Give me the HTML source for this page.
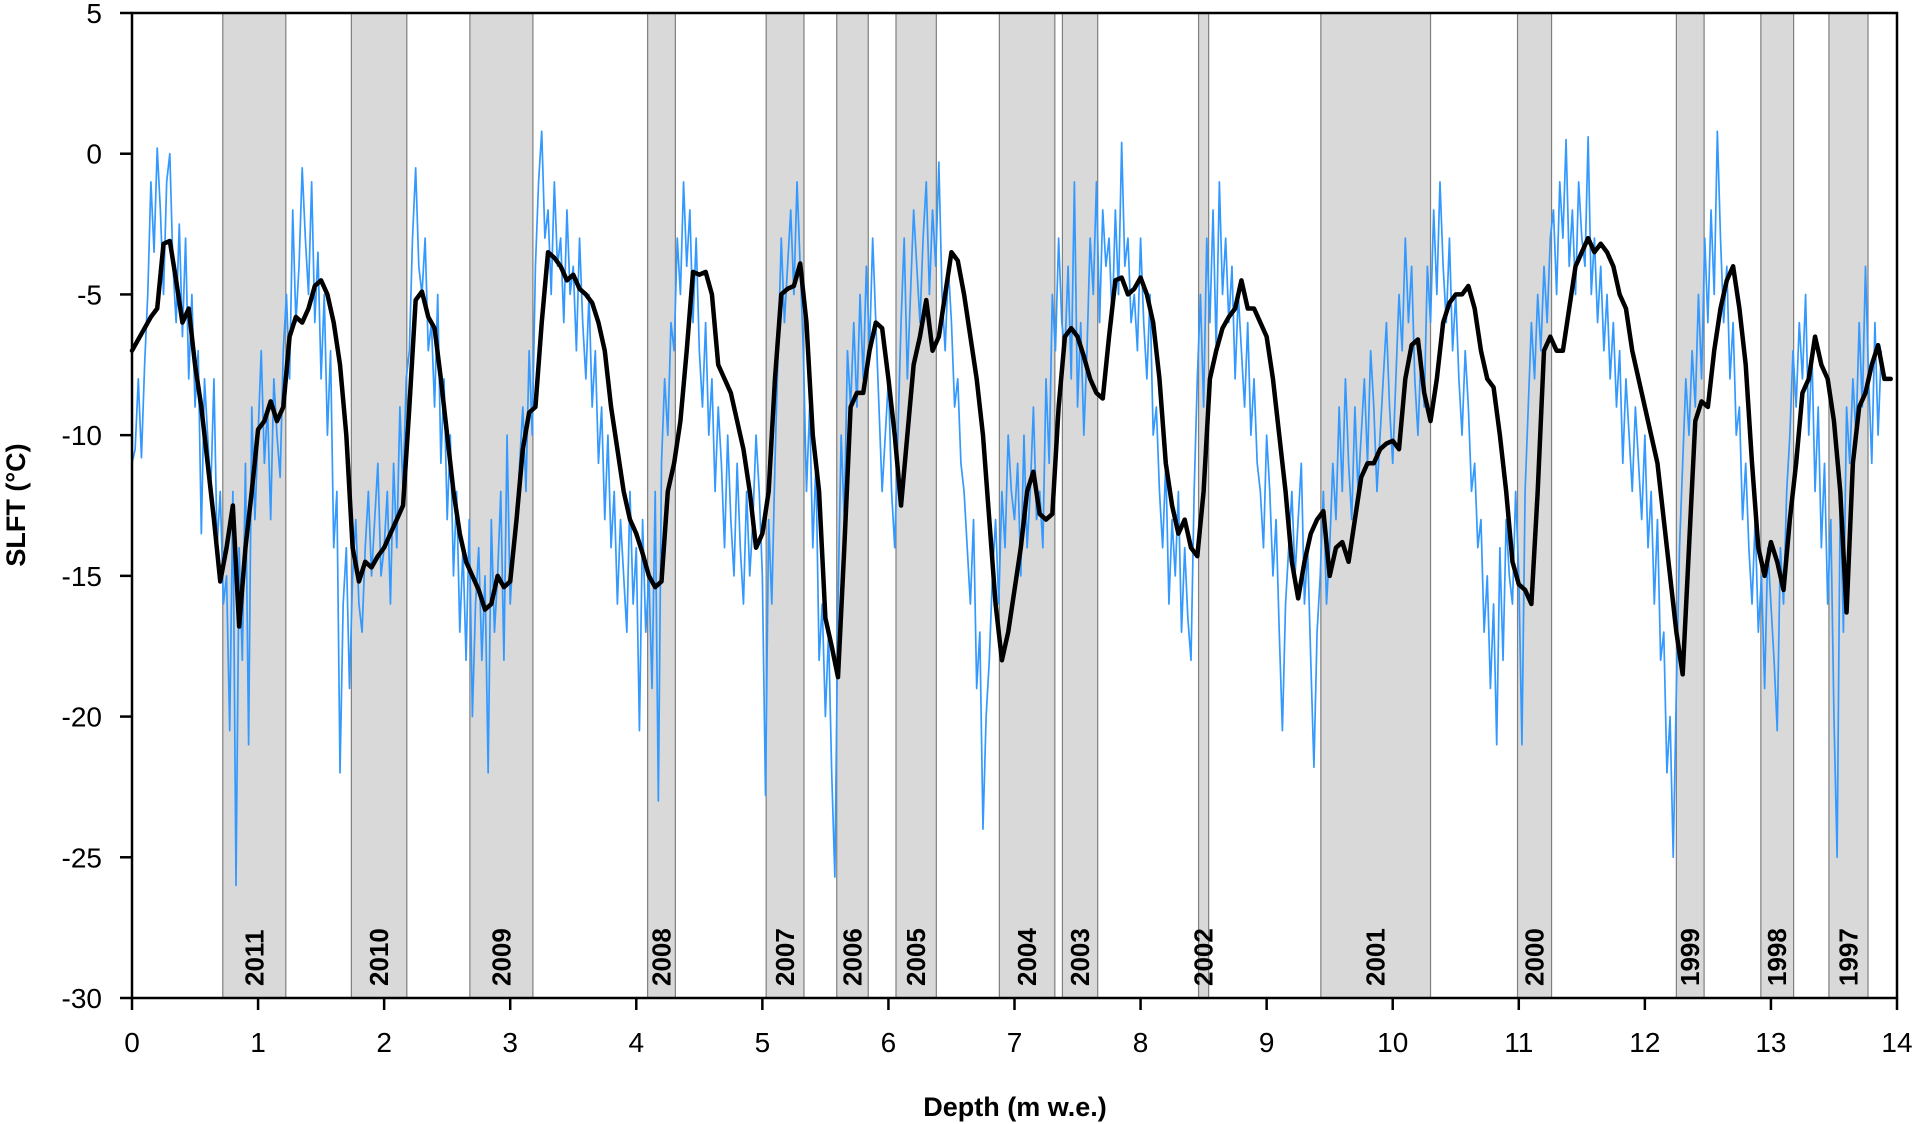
<!DOCTYPE html>
<html><head><meta charset="utf-8"><style>
html,body{margin:0;padding:0;background:#fff;}
svg{display:block;font-family:"Liberation Sans",Arial,sans-serif;}
</style></head><body>
<svg id="chart" width="1918" height="1124" viewBox="0 0 1918 1124" xmlns="http://www.w3.org/2000/svg">
<g id="bands"></g>
<g id="series"></g>
<g id="axes"></g>
<text transform="translate(25,505) rotate(-90)" text-anchor="middle" font-weight="bold" font-size="27">SLFT (°C)</text>
<text x="1015" y="1116" text-anchor="middle" font-weight="bold" font-size="27">Depth (m w.e.)</text>
</svg>
<script>
const yearLabels=["2011","2010","2009","2008","2007","2006","2005","2004","2003","2002","2001","2000","1999","1998","1997"];
const bandStart=[0.72,1.74,2.68,4.09,5.03,5.59,6.06,6.88,7.38,8.46,9.43,10.99,12.25,12.92,13.46];
const bandEnd=[1.22,2.18,3.18,4.31,5.33,5.84,6.38,7.32,7.66,8.54,10.30,11.26,12.47,13.18,13.77];
const xTicks=[0,1,2,3,4,5,6,7,8,9,10,11,12,13,14];
const yTicks=[5,0,-5,-10,-15,-20,-25,-30];
const smoothStep=0.05;
const smoothVals=[-7,-6.6,-6.2,-5.8,-5.5,-3.2,-3.1,-4.5,-6,-5.5,-7.5,-9,-11,-13,-15.2,-14,-12.5,-16.8,-14,-12,
-9.8,-9.5,-8.8,-9.5,-9,-6.5,-5.8,-6,-5.5,-4.7,-4.5,-5,-6,-7.5,-10,-14,-15.2,-14.5,-14.7,-14.3,
-14,-13.5,-13,-12.5,-9,-5.2,-4.9,-5.8,-6.2,-8,-10,-12,-13.5,-14.5,-15,-15.5,-16.2,-16,-15,-15.4,
-15.2,-13,-10.5,-9.2,-9,-6,-3.5,-3.7,-4,-4.5,-4.3,-4.8,-5,-5.3,-6,-7,-9,-10.5,-12,-13,
-13.5,-14.2,-15,-15.4,-15.2,-12,-11,-9.5,-7,-4.2,-4.3,-4.2,-5,-7.5,-8,-8.5,-9.5,-10.5,-12,-14,
-13.5,-12,-8,-5,-4.8,-4.7,-3.9,-6,-10,-12,-16.5,-17.5,-18.6,-14,-9,-8.5,-8.5,-7,-6,
-6.2,-8,-10,-12.5,-10,-7.5,-6.5,-5.2,-7,-6.5,-5,-3.5,-3.8,-5,-6.5,-8,-10,-13,-16,-18,
-17,-15.5,-14,-12,-11.3,-12.8,-13,-12.8,-9,-6.5,-6.2,-6.5,-7.2,-8,-8.5,-8.7,-6.5,-4.5,-4.4,-5,
-4.8,-4.4,-5,-6,-8,-11,-12.5,-13.5,-13,-14,-14.3,-12,-8,-7,-6.2,-5.8,-5.5,-4.5,-5.5,-5.5,
-6,-6.5,-8,-10,-12,-14.5,-15.8,-14.5,-13.5,-13,-12.7,-15,-14,-13.8,-14.5,-13,-11.5,-11,-11,-10.5,
-10.3,-10.2,-10.5,-8,-6.8,-6.6,-8.5,-9.5,-8,-6,-5.3,-5,-5,-4.7,-5.5,-7,-8,-8.3,-10,-12,
-14.5,-15.3,-15.5,-16,-12,-7,-6.5,-7,-7,-5.5,-4,-3.5,-3,-3.5,-3.2,-3.5,-4,-5,-5.5,-7,
-8,-9,-10,-11,-13,-15,-17,-18.5,-14,-9.5,-8.8,-9,-7,-5.5,-4.5,-4,-5.5,-7.5,-11,-14,
-15,-13.8,-14.5,-15.5,-13,-11,-8.5,-8,-6.5,-7.5,-8,-9.5,-12,-16.3,-11,-9,-8.5,-7.5,-6.8,-8,-8];
const rawStep=0.025;
const rawVals=[
-11,-10.5,-8,-10.8,-7.5,-5,-1,-3.5,0.2,-2,-5,-1,0,-4,-6,-2.5,-6.5,-3,-8,-5,-9,-7,-13.5,-8,-10,-12,-8,-14,-12,-16,-15,-20.5,-12,-26,-14,-18,-11,-21,-9,-13,
-10,-7,-11,-9,-13,-8,-10,-11.5,-7,-5,-8,-2,-6,-4,-0.5,-3,-5,-1,-6,-3.5,-8,-5,-10,-7,-14,-12,-22,-16,-14,-19,-15,-13,-16,-17,-14,-12,-15,-13,-11,-15,
-14,-12,-16,-11,-14,-9,-12,-8,-7,-3,-0.5,-4,-5,-3,-7,-6,-9,-5,-11,-8,-13,-10,-15,-12,-17,-14,-18,-13,-20,-16,-14,-18,-15,-22,-13,-17,-15,-12,-18,-10,
-16,-14,-13,-11,-9,-12,-7,-10,-4,-1,0.8,-3,-2,-5,-1,-4,-3,-6,-2,-5,-4,-7,-3,-6,-8,-5,-9,-7,-11,-9,-13,-10,-14,-12,-16,-13,-15,-17,-12,-16,
-14,-20.5,-13,-17,-15,-19,-12,-23,-11,-8,-10,-6,-7,-3,-5,-1,-4,-2,-6,-3,-7,-9,-6,-10,-8,-12,-9,-11,-14,-10,-13,-15,-11,-14,-16,-12,-15,-13,-10,-12,
-15,-22.8,-13,-16,-11,-7,-3,-6,-4,-2,-5,-1,-4,-7,-12,-9,-14,-11,-18,-16,-20,-17,-22,-25.7,-16,-10,-13,-7,-9,-6,-9,-5,-8,-4,-7,-3,-6,-9,-12,-10,
-8,-12,-14,-10,-6,-3,-8,-5,-2,-4,-6,-3,-1,-5,-2,-4,-0.3,-5,-7,-4,-6,-9,-8,-11,-12,-14,-16,-13,-19,-17,-24,-20,-18,-15,-13,-16,-12,-14,-10,-12,
-13,-11,-15,-10,-14,-12,-9,-13,-12,-14,-8,-11,-5,-7,-3,-6,-7,-4,-8,-1,-9,-6,-10,-7,-3,-5,-1,-6,-2,-4,-3,-6,-2,-5,0.4,-4,-3,-6,-5,-7,
-3,-6,-8,-5,-10,-9,-12,-14,-11,-16,-13,-15,-12,-17,-14,-16.5,-18,-12,-8,-5,-9,-3,-6,-2,-7,-1,-5,-3,-6,-4,-8,-5,-7,-9,-6,-10,-8,-11,-12,-14,
-10,-12,-15,-13,-17,-20.5,-16,-14,-12,-15,-13,-11,-16,-14,-18,-21.8,-17,-15,-12,-16,-14,-11,-13,-9,-12,-8,-11,-13,-9,-12,-10,-8,-11,-7,-9,-12,-10,-8,-6,-9,
-11,-8,-5,-7,-3,-6,-4,-8,-10,-7,-9,-4,-6,-2,-5,-1,-4,-6,-3,-7,-5,-8,-10,-7,-9,-12,-11,-14,-13,-17,-15,-19,-16,-21,-14,-18,-13,-15,-16,-12,
-15,-21,-12,-9,-6,-8,-5,-7,-4,-6,-3,-2,-5,-1,-3,0.5,-4,-2,-5,-1,-3,-4,0.6,-5,-3,-6,-4,-7,-5,-8,-6,-9,-7,-11,-8,-10,-12,-9,-11,-13,
-10,-14,-12,-16,-13,-18,-17,-22,-20,-25,-19,-14,-11,-8,-10,-7,-9,-5,-8,-3,-6,-2,-5,0.8,-3,-6,-4,-8,-6,-10,-9,-13,-11,-14,-16,-13,-17,-15,-19,-14,
-16,-18,-20.5,-14,-16,-12,-10,-7,-9,-6,-8,-5,-10,-7,-12,-9,-14,-11,-16,-13,-20,-25,-12,-17,-9,-11,-8,-10,-6,-9,-4,-8,-11,-6,-10,-7];

const L=132,R=1897,T=13,B=998,XMIN=0,XMAX=14,YMIN=-30,YMAX=5;
const xs=v=>L+(v-XMIN)/(XMAX-XMIN)*(R-L);
const ys=v=>B-(v-YMIN)/(YMAX-YMIN)*(B-T);
const NS="http://www.w3.org/2000/svg";
function mk(tag,attrs,parent){const e=document.createElementNS(NS,tag);for(const k in attrs)e.setAttribute(k,attrs[k]);parent.appendChild(e);return e;}

const bands=document.getElementById('bands');
for(let i=0;i<yearLabels.length;i++){
  const r=mk('rect',{x:xs(bandStart[i]),y:T,width:xs(bandEnd[i])-xs(bandStart[i]),height:B-T,fill:'#d9d9d9',stroke:'#7f7f7f','stroke-width':1.2},bands);
  
  
}
const series=document.getElementById('series');
let d='';
for(let i=0;i<rawVals.length;i++){d+=(i?'L':'M')+xs(i*rawStep).toFixed(2)+','+ys(rawVals[i]).toFixed(2);}
const raw=mk('path',{d:d,fill:'none',stroke:'#3399ff','stroke-width':1.7,'stroke-linejoin':'round'},series);


d='';
for(let i=0;i<smoothVals.length;i++){d+=(i?'L':'M')+xs(i*smoothStep).toFixed(2)+','+ys(smoothVals[i]).toFixed(2);}
const sm=mk('path',{d:d,fill:'none',stroke:'#000','stroke-width':4.5,'stroke-linejoin':'round','stroke-linecap':'round'},series);



for(let i=0;i<yearLabels.length;i++){
  const cx=(xs(bandStart[i])+xs(bandEnd[i]))/2;
  const t=mk('text',{transform:'translate('+(cx+9)+',986) rotate(-90)','font-size':26,'font-weight':'bold',fill:'#000'},bands);
  t.textContent=yearLabels[i];
  
  
}

const axes=document.getElementById('axes');
const frame=mk('rect',{x:L,y:T,width:R-L,height:B-T,fill:'none',stroke:'#000','stroke-width':2.5},axes);


for(const v of yTicks){
  const tk=mk('line',{x1:L-12,x2:L,y1:ys(v),y2:ys(v),stroke:'#000','stroke-width':2.5},axes);
  
  
  const t=mk('text',{x:L-30,y:ys(v)+10,'text-anchor':'end','font-size':28},axes);
  t.textContent=v;
  
  
}
for(const v of xTicks){
  const tk=mk('line',{x1:xs(v),x2:xs(v),y1:B,y2:B+12,stroke:'#000','stroke-width':2.5},axes);
  
  
  const t=mk('text',{x:xs(v),y:B+54,'text-anchor':'middle','font-size':28},axes);
  t.textContent=v;
  
  
}
</script>
</body></html>
